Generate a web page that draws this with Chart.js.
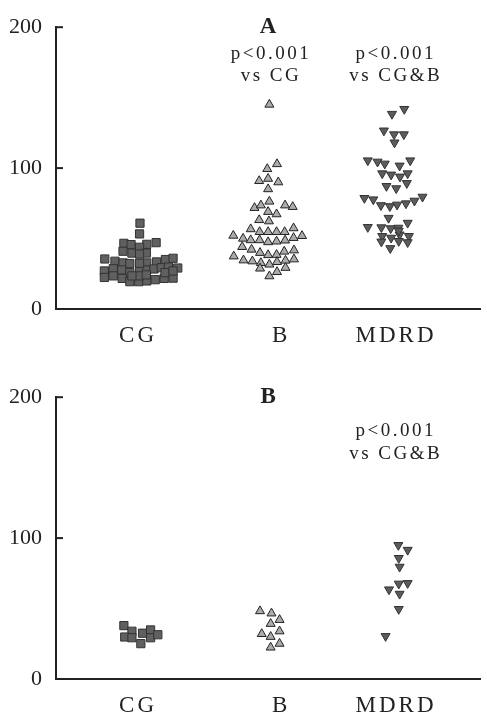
<!DOCTYPE html>
<html>
<head>
<meta charset="utf-8">
<script src="https://cdn.jsdelivr.net/npm/chart.js@4"></script>
<style>
  body { margin: 0; background: #fff; }
  .panel { position: absolute; left: 0; width: 487px; }
</style>
</head>
<body>
<div class="panel" style="top:0px"><canvas id="chartA" width="487" height="350"></canvas></div>
<div class="panel" style="top:370px"><canvas id="chartB" width="487" height="349"></canvas></div>
<script>
// categories and where they sit on the 0-100 x axis
const categories = ['CG', 'B', 'MDRD'];
const categoryPos = [19.0, 52.7, 79.8];
const yTicks = [0, 100, 200];

// panel A
const cgAX = [19.8, 19.7, 16.0, 17.7, 21.4, 23.6, 15.8, 17.9, 19.7, 21.3, 19.7, 11.5, 13.9, 15.8, 17.4, 21.4, 23.7, 25.8, 27.6, 11.4, 13.5, 15.5, 17.4, 19.7, 21.4, 23.1, 24.8, 26.5, 28.7, 11.4, 13.5, 15.6, 17.4, 19.5, 21.4, 23.4, 25.5, 27.6, 19.7, 21.3, 25.7, 27.6, 19.7, 17.9];
const cgAY = [60.9, 53.3, 46.6, 45.7, 45.9, 47.1, 41.0, 39.7, 43.8, 39.7, 39.0, 35.5, 33.9, 32.7, 32.3, 32.7, 33.4, 35.1, 36.0, 27.0, 28.6, 27.7, 25.8, 27.0, 27.7, 28.4, 29.3, 29.8, 29.1, 22.4, 23.5, 21.7, 19.4, 19.4, 19.9, 20.8, 21.7, 21.9, 23.5, 24.2, 25.8, 27.0, 32.5, 23.5];

const bAX = [50.3, 49.8, 52.1, 47.9, 50.0, 52.4, 50.0, 50.3, 46.8, 48.3, 54.0, 55.8, 50.0, 52.0, 47.9, 50.2, 45.9, 48.0, 50.0, 52.0, 53.9, 56.0, 41.8, 44.1, 45.9, 48.0, 50.0, 52.0, 54.0, 56.0, 58.0, 43.9, 46.1, 48.1, 50.0, 52.0, 53.8, 56.1, 41.9, 44.2, 46.3, 48.3, 50.3, 52.1, 54.1, 56.1, 48.1, 50.3, 52.1, 54.1];
const bAY = [145.1, 99.4, 102.9, 90.9, 92.5, 90.0, 85.1, 76.3, 71.8, 73.6, 73.6, 72.5, 69.0, 67.3, 63.2, 62.3, 56.7, 54.7, 54.7, 54.7, 54.7, 57.4, 52.1, 50.0, 48.9, 48.9, 47.5, 48.0, 48.7, 50.5, 51.9, 44.1, 42.2, 39.9, 38.3, 38.5, 40.8, 41.7, 37.4, 34.6, 33.9, 32.7, 31.6, 33.4, 34.4, 35.3, 28.8, 23.3, 26.3, 29.3];

const mdrdAX = [82.1, 79.2, 77.3, 79.7, 82.0, 79.8, 73.5, 75.8, 77.5, 81.0, 83.5, 76.9, 79.0, 81.1, 82.9, 77.9, 80.2, 82.7, 72.7, 74.8, 76.6, 78.7, 80.4, 82.5, 84.5, 86.4, 78.4, 73.5, 76.7, 78.9, 80.7, 82.9, 76.9, 79.0, 81.0, 83.2, 76.7, 78.8, 80.8, 82.9, 80.8];
const mdrdAY = [141.9, 138.4, 126.6, 123.9, 123.9, 118.1, 105.4, 104.5, 103.1, 101.7, 105.4, 96.2, 95.3, 93.9, 96.2, 87.2, 85.6, 89.3, 78.7, 77.7, 73.6, 72.9, 74.0, 74.9, 76.8, 79.6, 64.6, 58.1, 57.9, 57.2, 57.6, 61.1, 51.7, 50.5, 52.8, 51.7, 47.8, 43.1, 48.2, 47.3, 55.5];

// panel B
const cgBX = [16.0, 17.9, 16.2, 17.9, 20.0, 20.4, 22.3, 22.3, 24.0];
const cgBY = [37.9, 33.9, 29.8, 29.3, 25.1, 32.5, 34.8, 29.3, 31.4];
const bBX = [48.1, 50.8, 52.7, 50.6, 48.5, 52.7, 50.6, 50.6, 52.7];
const bBY = [48.2, 46.6, 42.0, 39.2, 32.0, 33.9, 30.0, 22.4, 25.1];
const mdrdBX = [80.7, 82.9, 80.8, 81.0, 78.5, 80.8, 82.9, 81.0, 80.8, 77.7];
const mdrdBY = [95.0, 91.6, 85.8, 79.6, 63.5, 67.6, 68.0, 60.4, 49.6, 30.4];

const serif = '"Liberation Serif", "Times New Roman", serif';

const toPoints = (xs, ys) => xs.map((v, i) => ({ x: v, y: ys[i] }));

const panelText = {
    id: 'panelText',
    afterDraw: (chart, args, opts) => {
        const { ctx, chartArea: { left, right, bottom }, scales: { x, y } } = chart;
        ctx.save();
        ctx.fillStyle = '#222';
        ctx.textAlign = 'center';
        ctx.textBaseline = 'middle';

        ctx.font = 'bold 23px ' + serif;
        ctx.fillText(opts.title, (left + right) / 2, y.getPixelForValue(200));

        ctx.font = '19px ' + serif;
        ctx.letterSpacing = '2.5px';
        opts.notes.forEach(n => {
            ctx.fillText(n.text, x.getPixelForValue(n.x) + 1.2, y.getPixelForValue(n.y));
        });

        ctx.font = '23px ' + serif;
        ctx.letterSpacing = '3px';
        categories.forEach((c, i) => {
            ctx.fillText(c, x.getPixelForValue(categoryPos[i]) + 1.5, bottom + 27);
        });

        // short inward tick marks on the y axis
        ctx.letterSpacing = '0px';
        ctx.strokeStyle = '#222';
        ctx.lineWidth = 2;
        yTicks.forEach(t => {
            const py = y.getPixelForValue(t);
            ctx.beginPath();
            ctx.moveTo(left, py);
            ctx.lineTo(left + 7, py);
            ctx.stroke();
        });
        ctx.restore();
    }
};

function makePanel(id, cg, b, mdrd, title, notes) {
    const canvas = document.getElementById(id);
    const xHeight = canvas.height - 309;
    return new Chart(canvas, {
        type: 'scatter',
        data: {
            datasets: [
                {
                    label: 'CG',
                    data: cg,
                    pointStyle: 'rect',
                    pointRadius: 5.8,
                    borderWidth: 1,
                    borderColor: '#333',
                    backgroundColor: '#606060'
                },
                {
                    label: 'B',
                    data: b,
                    pointStyle: 'triangle',
                    pointRadius: 5.2,
                    borderWidth: 1,
                    borderColor: '#222',
                    backgroundColor: '#ababab'
                },
                {
                    label: 'MDRD',
                    data: mdrd,
                    pointStyle: 'triangle',
                    rotation: 180,
                    pointRadius: 5.2,
                    borderWidth: 1,
                    borderColor: '#333',
                    backgroundColor: '#5c5c5c'
                }
            ]
        },
        plugins: [panelText],
        options: {
            responsive: false,
            animation: false,
            layout: { padding: { top: 20, left: 0, right: 0, bottom: 0 } },
            plugins: {
                legend: { display: false },
                tooltip: { enabled: false },
                panelText: { title: title, notes: notes }
            },
            scales: {
                x: {
                    type: 'linear',
                    min: 0,
                    max: 100,
                    grid: { display: false, drawTicks: false },
                    border: { display: true, width: 2, color: '#222' },
                    ticks: { display: false },
                    afterFit: (scale) => { scale.height = xHeight; }
                },
                y: {
                    min: 0,
                    max: 200,
                    afterBuildTicks: (scale) => { scale.ticks = yTicks.map(v => ({ value: v })); },
                    grid: { display: false, drawTicks: false },
                    border: { display: true, width: 2, color: '#222' },
                    ticks: {
                        padding: 14,
                        color: '#222',
                        font: { family: serif, size: 22 }
                    },
                    afterFit: (scale) => { scale.width = 56; }
                }
            }
        }
    });
}

makePanel('chartA', toPoints(cgAX, cgAY), toPoints(bAX, bAY), toPoints(mdrdAX, mdrdAY), 'A', [
    { text: 'p<0.001', x: 50.4, y: 181.3 },
    { text: 'vs CG', x: 50.4, y: 165.4 },
    { text: 'p<0.001', x: 79.8, y: 181.3 },
    { text: 'vs CG&B', x: 79.8, y: 165.4 }
]);

makePanel('chartB', toPoints(cgBX, cgBY), toPoints(bBX, bBY), toPoints(mdrdBX, mdrdBY), 'B', [
    { text: 'p<0.001', x: 79.8, y: 175.8 },
    { text: 'vs CG&B', x: 79.8, y: 159.9 }
]);
</script>
</body>
</html>
